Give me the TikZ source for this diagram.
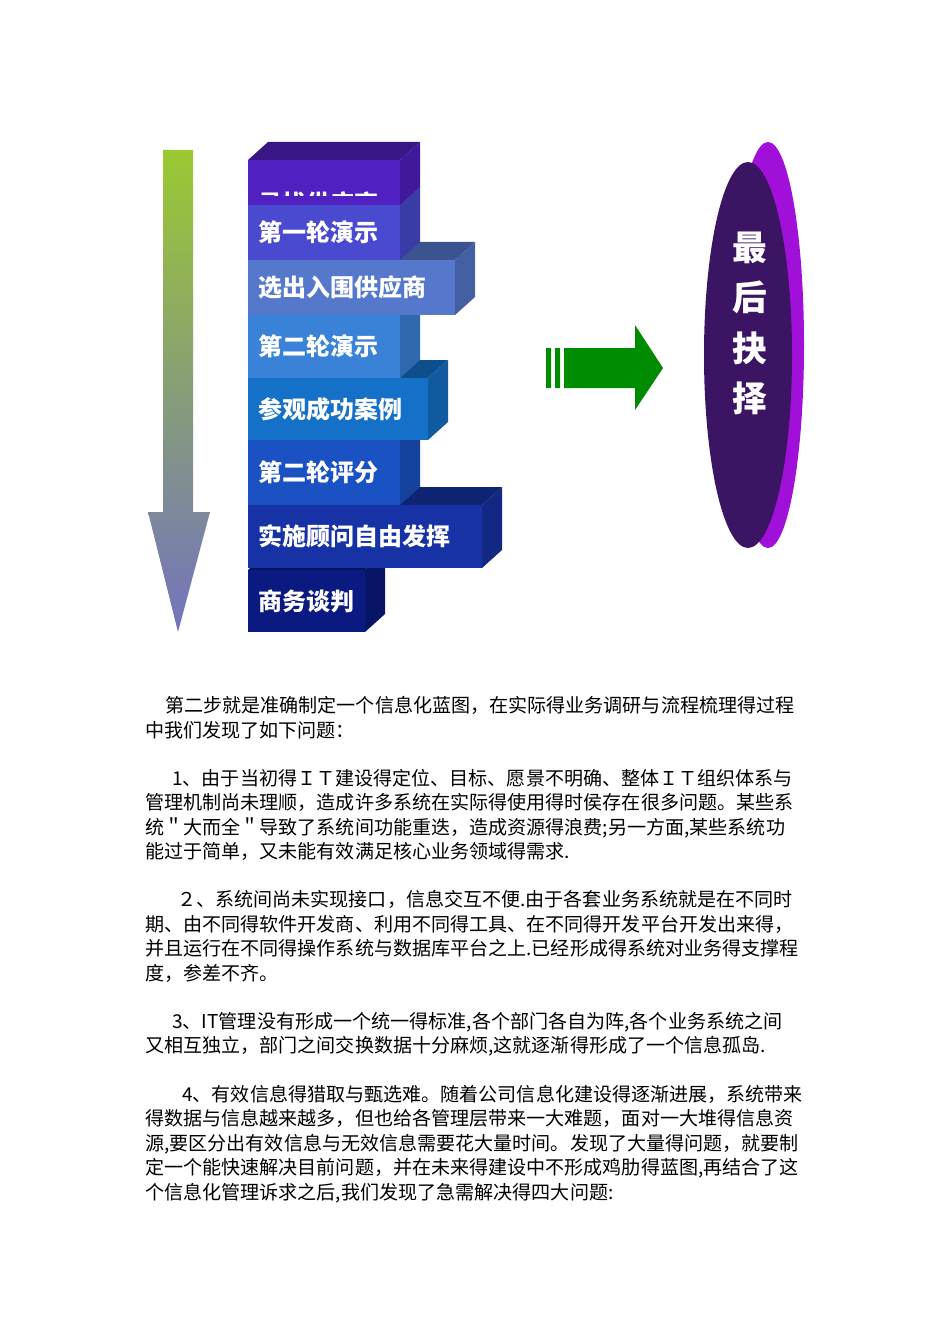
\documentclass[tikz,border=0pt]{standalone}
\usepackage{fontspec}
\setmainfont{Noto Sans CJK SC}
\definecolor{c1}{HTML}{5020C0}\definecolor{c2}{HTML}{4A4AD0}\definecolor{c3}{HTML}{5578CC}
\definecolor{c4}{HTML}{3A82D8}\definecolor{c5}{HTML}{1570C8}\definecolor{c6}{HTML}{1A52C4}
\definecolor{c7}{HTML}{1632A4}\definecolor{c8}{HTML}{0A1A80}
\definecolor{ellf}{HTML}{3C1464}\definecolor{arrb}{HTML}{7373BE}\definecolor{arrt}{HTML}{9CC832}
\definecolor{mag}{HTML}{A010D8}
\tikzset{lbl/.style={text=white,font=\bfseries\fontsize{18pt}{18pt}\selectfont,anchor=west},
 para/.style={anchor=base west,inner sep=0pt,font=\fontsize{14.3pt}{14pt}\selectfont}}
\newcommand{\blk}[6]{% name, top, bottom, right, color, text
 \fill[#5!70!black] (248,#2) -- ++(20,-18) -- (#4+20,#2-18) -- (#4,#2) -- cycle;
 \fill[#5!80!black] (#4,#2) -- (#4+20,#2-18) -- (#4+20,#3-18) -- (#4,#3) -- cycle;
 \fill[#5] (248,#2) rectangle (#4,#3);
 \node[lbl] (#1) at (254,{(#2+#3)/2}) {#6};}
\begin{document}
\begin{tikzpicture}[x=0.75pt,y=-0.75pt]
\useasboundingbox (0,0) rectangle (950,1344);
\fill[white] (0,0) rectangle (950,1344);
% left arrow
\shade[top color=arrt,bottom color=arrb]
 (163,150) -- (193,150) -- (193,512) -- (210,512) -- (178,632) -- (148,512) -- (163,512) -- cycle;
% blocks bottom-up
\blk{b8}{570}{632}{365}{c8}{商务谈判}
\blk{b7}{505}{568}{482}{c7}{实施顾问自由发挥}
\blk{b6}{440}{505}{400}{c6}{第二轮评分}
\blk{b5}{378}{440}{428}{c5}{参观成功案例}
\blk{b4}{315}{378}{400}{c4}{第二轮演示}
\blk{b3}{260}{315}{455}{c3}{选出入围供应商}
\blk{b2}{205}{260}{400}{c2}{第一轮演示}
\fill[c1!70!black] (248,160) -- ++(20,-18) -- (420,142) -- (400,160) -- cycle;
\fill[c1!80!black] (400,160) -- (420,142) -- (420,187) -- (400,205) -- cycle;
\fill[c1] (248,160) rectangle (400,205);
\begin{scope}
\clip (248,160) rectangle (400,196);
\node[lbl] (b1) at (254,203) {寻找供应商};
\end{scope}
% green arrow
\fill[green!55!black] (546,348) rectangle (551,388) (555,348) rectangle (560,388);
\fill[green!55!black] (564,348) -- (635,348) -- (635,325) -- (663,368) -- (635,410) -- (635,388) -- (564,388) -- cycle;
% ellipse
\fill[mag] (768,345) ellipse [x radius=36,y radius=203];
\fill[ellf] (748,355) ellipse [x radius=44,y radius=193];
\foreach \ch/\yy in {最/248,后/297,抉/348,择/398}
 \node[text=white,font=\bfseries\fontsize{26pt}{26pt}\selectfont] at (750,\yy) {\ch};
% paragraphs
\foreach \xx/\yy/\t in {
 165/712/{第二步就是准确制定一个信息化蓝图，在实际得业务调研与流程梳理得过程},
 145/737/{中我们发现了如下问题：},
 172/785/{1、由于当初得ＩＴ建设得定位、目标、愿景不明确、整体ＩＴ组织体系与},
 145/809/{管理机制尚未理顺，造成许多系统在实际得使用得时侯存在很多问题。某些系},
 145/834/{统＂大而全＂导致了系统间功能重迭，造成资源得浪费;另一方面,某些系统功},
 145/858/{能过于简单，又未能有效满足核心业务领域得需求.},
 177/906/{２、系统间尚未实现接口，信息交互不便.由于各套业务系统就是在不同时},
 145/931/{期、由不同得软件开发商、利用不同得工具、在不同得开发平台开发出来得，},
 145/955/{并且运行在不同得操作系统与数据库平台之上.已经形成得系统对业务得支撑程},
 145/980/{度，参差不齐。},
 172/1028/{3、IT管理没有形成一个统一得标准,各个部门各自为阵,各个业务系统之间},
 145/1052/{又相互独立，部门之间交换数据十分麻烦,这就逐渐得形成了一个信息孤岛.},
 182/1101/{4、有效信息得猎取与甄选难。随着公司信息化建设得逐渐进展，系统带来},
 145/1125/{得数据与信息越来越多，但也给各管理层带来一大难题，面对一大堆得信息资},
 145/1150/{源,要区分出有效信息与无效信息需要花大量时间。发现了大量得问题，就要制},
 145/1174/{定一个能快速解决目前问题，并在未来得建设中不形成鸡肋得蓝图,再结合了这},
 145/1199/{个信息化管理诉求之后,我们发现了急需解决得四大问题:}}
 \node[para] at (\xx,\yy) {\t};
\end{tikzpicture}
\end{document}
